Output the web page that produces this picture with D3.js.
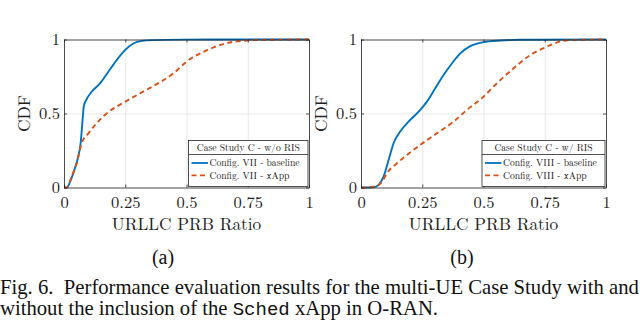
<!DOCTYPE html>
<html><head><meta charset="utf-8">
<script src="https://cdn.jsdelivr.net/npm/d3@7"></script>
<style>body{margin:0;background:#fff}svg{display:block}</style>
</head><body>
<svg id="c" width="640" height="321"></svg>
<script>
const xTicks = [0, 0.25, 0.5, 0.75, 1];
const xTickLabels = ["0", "0.25", "0.5", "0.75", "1"];
const yTicks = [0, 0.5, 1];
const yTickLabels = ["0", "0.5", "1"];

// Panel (a): Case Study C - w/o RIS
const aBaseX = [0, 0.011, 0.024, 0.038, 0.049, 0.058, 0.068, 0.075, 0.081, 0.092, 0.113, 0.147, 0.181, 0.215, 0.249, 0.283, 0.317, 0.364, 0.486, 0.7, 1];
const aBaseY = [0, 0, 0.034, 0.097, 0.153, 0.209, 0.3, 0.44, 0.55, 0.595, 0.647, 0.703, 0.782, 0.861, 0.928, 0.973, 0.991, 0.996, 0.999, 1, 1];
const aXappX = [0, 0.011, 0.031, 0.052, 0.072, 0.1, 0.133, 0.174, 0.25, 0.31, 0.364, 0.446, 0.5, 0.58, 0.663, 0.745, 0.826, 1];
const aXappY = [0, 0, 0.074, 0.164, 0.3, 0.366, 0.434, 0.5, 0.58, 0.636, 0.685, 0.77, 0.85, 0.925, 0.975, 0.993, 0.998, 1];

// Panel (b): Case Study C - w/ RIS
const bBaseX = [0, 0.018, 0.052, 0.072, 0.092, 0.113, 0.133, 0.16, 0.194, 0.242, 0.269, 0.303, 0.337, 0.371, 0.405, 0.446, 0.5, 0.568, 0.65, 1];
const bBaseY = [0, 0, 0.002, 0.018, 0.074, 0.187, 0.299, 0.378, 0.445, 0.524, 0.58, 0.67, 0.76, 0.838, 0.906, 0.955, 0.982, 0.993, 0.998, 1];
const bXappX = [0, 0.018, 0.065, 0.086, 0.106, 0.147, 0.188, 0.242, 0.31, 0.378, 0.432, 0.5, 0.554, 0.622, 0.69, 0.758, 0.826, 0.894, 1];
const bXappY = [0, 0, 0.011, 0.04, 0.097, 0.164, 0.22, 0.288, 0.366, 0.445, 0.524, 0.613, 0.703, 0.804, 0.894, 0.951, 0.991, 0.998, 1];

const panels = [
  {left: 64, right: 309, title: "Case Study C - w/o RIS",
   names: ["Config. VII - baseline", "Config. VII - xApp"],
   series: [[aBaseX, aBaseY], [aXappX, aXappY]], sub: "(a)", subX: 163, legW: 120.5},
  {left: 361, right: 606, title: "Case Study C - w/ RIS",
   names: ["Config. VIII - baseline", "Config. VIII - xApp"],
   series: [[bBaseX, bBaseY], [bXappX, bXappY]], sub: "(b)", subX: 462, legW: 124}
];
const colors = ["#0072BD", "#D95319"];
const plotTop = 39.5, plotBottom = 187.5;
const lm = "'Latin Modern Roman', 'CMU Serif', serif";
const times = "'Liberation Serif', 'Times New Roman', serif";
const svg = d3.select("#c");

panels.forEach(p => {
  const x = d3.scaleLinear().domain([0, 1]).range([p.left, p.right]);
  const y = d3.scaleLinear().domain([0, 1]).range([plotBottom, plotTop]);
  const g = svg.append("g");
  g.append("g").attr("transform", `translate(0,${plotBottom})`)
    .call(d3.axisBottom(x).tickValues(xTicks).tickSize(-(plotBottom - plotTop)).tickFormat(""))
    .call(s => s.select(".domain").remove())
    .call(s => s.selectAll("line").attr("stroke", "#e2e2e2").attr("stroke-width", 0.8));
  g.append("g").attr("transform", `translate(${p.left},0)`)
    .call(d3.axisLeft(y).tickValues(yTicks).tickSize(-(p.right - p.left)).tickFormat(""))
    .call(s => s.select(".domain").remove())
    .call(s => s.selectAll("line").attr("stroke", "#e2e2e2").attr("stroke-width", 0.8));
  p.series.forEach((s, i) => {
    const pts = s[0].map((v, k) => [v, s[1][k]]);
    g.append("path").datum(pts)
      .attr("fill", "none").attr("stroke", colors[i]).attr("stroke-width", 1.9)
      .attr("stroke-dasharray", i === 1 ? "5,3.5" : null)
      .attr("d", d3.line().x(d => x(d[0])).y(d => y(d[1])).curve(d3.curveMonotoneX));
  });
  const axB = g.append("g").attr("transform", `translate(0,${plotBottom})`)
    .call(d3.axisBottom(x).tickValues(xTicks).tickSizeInner(-3).tickSizeOuter(0).tickPadding(8)
      .tickFormat((d, i) => xTickLabels[i]));
  const axT = g.append("g").attr("transform", `translate(0,${plotTop})`)
    .call(d3.axisTop(x).tickValues(xTicks).tickSizeInner(-3).tickSizeOuter(0).tickFormat(""));
  const axL = g.append("g").attr("transform", `translate(${p.left},0)`)
    .call(d3.axisLeft(y).tickValues(yTicks).tickSizeInner(-3).tickSizeOuter(0).tickPadding(4)
      .tickFormat((d, i) => yTickLabels[i]));
  const axR = g.append("g").attr("transform", `translate(${p.right},0)`)
    .call(d3.axisRight(y).tickValues(yTicks).tickSizeInner(-3).tickSizeOuter(0).tickFormat(""));
  [axB, axT, axL, axR].forEach(a => {
    a.select(".domain").attr("stroke", "#262626").attr("stroke-width", 0.8);
    a.selectAll("line").attr("stroke", "#262626").attr("stroke-width", 0.8);
    a.selectAll("text").attr("font-family", lm).attr("font-size", 16.5).attr("fill", "#222");
  });
  axB.selectAll("text").attr("dy", null).attr("y", 20.5);
  g.append("text").attr("x", (p.left + p.right) / 2).attr("y", 230)
    .attr("text-anchor", "middle").attr("font-family", lm).attr("font-size", 17.3)
    .attr("fill", "#222").text("URLLC PRB Ratio");
  g.append("text").attr("transform", `translate(${p.left - 34},${(plotTop + plotBottom) / 2}) rotate(-90)`)
    .attr("text-anchor", "middle").attr("font-family", lm).attr("font-size", 17.3)
    .attr("fill", "#222").text("CDF");
  const lx = p.right - p.legW, ly = 140.5, lh = plotBottom - 140.5;
  const leg = g.append("g");
  leg.append("rect").attr("x", lx).attr("y", ly).attr("width", p.legW - 1).attr("height", lh - 1)
    .attr("fill", "#fff").attr("stroke", "#262626").attr("stroke-width", 0.8);
  leg.append("line").attr("x1", lx).attr("x2", p.right - 1).attr("y1", 154.5).attr("y2", 154.5)
    .attr("stroke", "#262626").attr("stroke-width", 0.8);
  leg.append("text").attr("x", lx + (p.legW - 1) / 2).attr("y", 151).attr("text-anchor", "middle")
    .attr("font-family", lm).attr("font-size", 9.6).attr("fill", "#111").text(p.title);
  p.names.forEach((n, i) => {
    const yy = 163 + i * 12.4;
    leg.append("line").attr("x1", lx + 3).attr("x2", lx + 19.5).attr("y1", yy).attr("y2", yy)
      .attr("stroke", colors[i]).attr("stroke-width", 1.8).attr("stroke-dasharray", i === 1 ? "5,3.5" : null);
    leg.append("text").attr("x", lx + 21).attr("y", yy + 3.2).attr("font-family", lm)
      .attr("font-size", 9.6).attr("fill", "#111").text(n);
  });
  svg.append("text").attr("x", p.subX).attr("y", 264).attr("text-anchor", "middle")
    .attr("font-family", times).attr("font-size", 20).attr("fill", "#111").text(p.sub);
});

const cap1 = svg.append("text").attr("x", 0).attr("y", 294).attr("font-family", times)
  .attr("font-size", 20.7).attr("fill", "#111");
cap1.append("tspan").text("Fig. 6.\u00a0\u00a0Performance evaluation results for the multi-UE Case Study with and");
const cap2 = svg.append("text").attr("x", 0).attr("y", 315).attr("font-family", times)
  .attr("font-size", 20.7).attr("fill", "#111");
cap2.append("tspan").text("without the inclusion of the ");
cap2.append("tspan").attr("font-family", "'Liberation Mono', 'DejaVu Sans Mono', monospace").attr("font-size", 19).text("Sched");
cap2.append("tspan").text(" xApp in O-RAN.");
</script>
</body></html>
